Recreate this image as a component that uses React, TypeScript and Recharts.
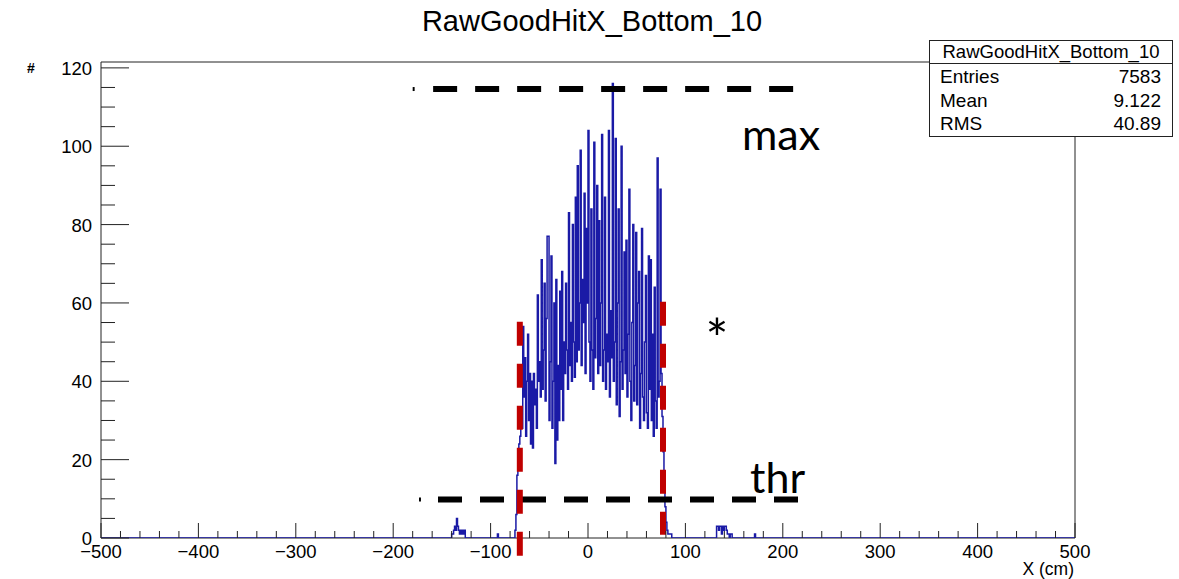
import { Line, LineChart, ReferenceArea, ReferenceLine, XAxis, YAxis } from "recharts";

const title = "RawGoodHitX_Bottom_10";
const xAxisTitle = "X (cm)";
const yAxisTitle = "#";

// axis ticks (minor + major) and the labelled ones
const xTicks = [
  -500, -480, -460, -440, -420, -400, -380, -360, -340, -320, -300, -280, -260, -240, -220, -200, -180,
  -160, -140, -120, -100, -80, -60, -40, -20, 0, 20, 40, 60, 80, 100, 120, 140, 160, 180, 200, 220, 240,
  260, 280, 300, 320, 340, 360, 380, 400, 420, 440, 460, 480, 500,
];
const xLabels = [-500, -400, -300, -200, -100, 0, 100, 200, 300, 400, 500];
const yTicks = [0, 5, 10, 15, 20, 25, 30, 35, 40, 45, 50, 55, 60, 65, 70, 75, 80, 85, 90, 95, 100, 105, 110, 115, 120];
const yLabels = [0, 20, 40, 60, 80, 100, 120];

// histogram, 1 cm bins, counts per bin starting at the given low edge
const mainStart = -76;
const mainCounts = [
  0, 2, 6, 16, 21, 24, 26, 30, 28, 54, // -76..-67
  36, 46, 26, 40, 52, 30, 42, 24, 40, 23, // -66..-57
  42, 34, 38, 28, 62, 40, 45, 36, 71, 38, // -56..-47
  48, 65, 35, 56, 77, 77, 30, 45, 72, 28, // -46..-37
  40, 60, 19, 66, 25, 44, 30, 63, 38, 68, // -36..-27
  30, 50, 42, 65, 48, 38, 83, 44, 55, 40, // -26..-17
  80, 50, 41, 87, 45, 95, 48, 60, 99, 44, // -16..-7
  66, 55, 88, 42, 79, 60, 104, 50, 40, 84, // -6..3
  48, 38, 101, 46, 56, 90, 42, 81, 44, 60, // 4..13
  103, 40, 48, 87, 38, 52, 45, 104, 36, 58, // 14..23
  46, 116, 40, 50, 102, 34, 60, 84, 31, 45, // 24..33
  100, 38, 48, 73, 42, 76, 36, 52, 89, 40, // 34..43
  30, 55, 80, 35, 44, 78, 34, 60, 68, 28, // 44..53
  42, 79, 36, 30, 50, 67, 32, 28, 72, 38, // 54..63
  71, 30, 52, 26, 64, 35, 28, 97, 36, 40, // 64..73
  89, 42, 31, 22, 15, 8, 4, 2, 1, 1, // 74..83
  1, 1, 0, // 84..86
];
const leftClusterStart = -140;
const leftClusterCounts = [1, 1, 2, 3, 2, 5, 3, 2, 1, 2, 1, 2, 1, 2];
const rightClusterStart = 132;
const rightClusterCounts = [3, 3, 2, 3, 3, 1, 3, 2, 3, 3, 2, 1, 1, 0, 1, 1];
const strayBins = [
  { x: -93, count: 1 },
  { x: 171, count: 1 },
];

const stats = [
  ["Entries", "7583"],
  ["Mean", "9.122"],
  ["RMS", "40.89"],
];

// hand-drawn annotations (data units)
const maxLevel = 114.6;
const thrLevel = 9.8;
const maxLine = { from: -159, to: 212.5, mark: -179 };
const thrLine = { from: -154, to: 217.6, mark: -172.5 };
const leftCut = { x: -70, top: 55.2, bottom: -4.6 };
const rightCut = { x: 77, top: 60.3, bottom: 0.8 };

const AXIS = "#222";
const HIST = "#1a1aa6";
const RED = "#c00000";
const ROOT_FONT = "'Liberation Sans', Arial, sans-serif";
const NOTE_FONT = "Lato, 'Open Sans', sans-serif";

function buildSteps() {
  const bins = new Map<number, number>();
  const add = (start: number, counts: number[]) => counts.forEach((c, i) => bins.set(start + i, c));
  add(leftClusterStart, leftClusterCounts);
  add(mainStart, mainCounts);
  add(rightClusterStart, rightClusterCounts);
  strayBins.forEach((b) => bins.set(b.x, b.count));
  const xs = [...bins.keys()].sort((a, b) => a - b);
  const pts = [{ x: -500, y: 0 }];
  xs.forEach((x, i) => {
    pts.push({ x, y: bins.get(x)! });
    if (xs[i + 1] !== x + 1) pts.push({ x: x + 1, y: 0 });
  });
  pts.push({ x: 500, y: 0 });
  return pts;
}

const fmt = (v: number) => (v < 0 ? `\u2212${-v}` : String(v));

function XTick(props: any) {
  const { x, y, payload } = props;
  const major = xLabels.includes(payload.value);
  return (
    <g>
      <line x1={x} x2={x} y1={y} y2={y - (major ? 15 : 7)} stroke={AXIS} />
      {major && (
        <text x={x} y={y + 20} textAnchor="middle" fontSize={18.5} fontFamily={ROOT_FONT} fill="#000">
          {fmt(payload.value)}
        </text>
      )}
    </g>
  );
}

function YTick(props: any) {
  const { x, y, payload } = props;
  const major = yLabels.includes(payload.value);
  return (
    <g>
      <line x1={x} x2={x + (major ? 28 : 14)} y1={y} y2={y} stroke={AXIS} />
      {major && (
        <text x={x - 9} y={y + 7} textAnchor="end" fontSize={18.5} fontFamily={ROOT_FONT} fill="#000">
          {payload.value}
        </text>
      )}
    </g>
  );
}

export default function App() {
  const data = buildSteps();
  return (
    <div style={{ position: "relative", width: 1179, height: 579, background: "#fff" }}>
      <style>{"body{margin:0}"}</style>
      <LineChart width={1179} height={579} data={data} margin={{ top: 62, right: 104, bottom: 11, left: 41 }}>
        <XAxis
          dataKey="x"
          type="number"
          domain={[-500, 500]}
          ticks={xTicks}
          interval={0}
          tick={<XTick />}
          tickSize={0}
          tickMargin={0}
          tickLine={false}
          axisLine={false}
          height={30}
          allowDataOverflow
        />
        <YAxis
          type="number"
          domain={[0, 121.5]}
          ticks={yTicks}
          interval={0}
          tick={<YTick />}
          tickSize={0}
          tickMargin={0}
          tickLine={false}
          axisLine={false}
          width={60}
          allowDataOverflow
        />
        <ReferenceArea x1={-500} x2={500} y1={0} y2={121.5} fill="none" stroke={AXIS} strokeWidth={1} />
        <Line
          type="stepAfter"
          dataKey="y"
          stroke={HIST}
          strokeWidth={1.5}
          dot={false}
          isAnimationActive={false}
        />
        <ReferenceLine
          segment={[{ x: maxLine.from, y: maxLevel }, { x: maxLine.to, y: maxLevel }]}
          stroke="#000"
          strokeWidth={6}
          strokeDasharray="24 18"
          ifOverflow="visible"
        />
        <ReferenceLine
          segment={[{ x: maxLine.mark - 1, y: maxLevel }, { x: maxLine.mark + 1, y: maxLevel }]}
          stroke="#000"
          strokeWidth={4}
          ifOverflow="visible"
        />
        <ReferenceLine
          segment={[{ x: thrLine.from, y: thrLevel }, { x: thrLine.to, y: thrLevel }]}
          stroke="#000"
          strokeWidth={6}
          strokeDasharray="24 18"
          ifOverflow="visible"
        />
        <ReferenceLine
          segment={[{ x: thrLine.mark - 1, y: thrLevel }, { x: thrLine.mark + 1, y: thrLevel }]}
          stroke="#000"
          strokeWidth={4}
          ifOverflow="visible"
        />
        <ReferenceLine
          segment={[{ x: leftCut.x, y: leftCut.top }, { x: leftCut.x, y: leftCut.bottom }]}
          stroke={RED}
          strokeWidth={6}
          strokeDasharray="24 18"
          ifOverflow="visible"
        />
        <ReferenceLine
          segment={[{ x: rightCut.x, y: rightCut.top }, { x: rightCut.x, y: rightCut.bottom }]}
          stroke={RED}
          strokeWidth={6}
          strokeDasharray="24 18"
          ifOverflow="visible"
        />
      </LineChart>

      <svg
        width={1179}
        height={579}
        style={{ position: "absolute", left: 0, top: 0, pointerEvents: "none" }}
      >
        <text x={592} y={31} textAnchor="middle" fontSize={29} fontFamily={ROOT_FONT} fill="#000">
          {title}
        </text>
        <text x={31} y={73} textAnchor="middle" fontSize={14} fontWeight="bold" fontFamily={ROOT_FONT} fill="#000">
          {yAxisTitle}
        </text>
        <text x={1074} y={575} textAnchor="end" fontSize={17.5} fontFamily={ROOT_FONT} fill="#000">
          {xAxisTitle}
        </text>

        <text x={742} y={150} fontSize={43} fontFamily={NOTE_FONT} fill="#000">
          max
        </text>
        <text x={750} y={493} fontSize={43} fontFamily={NOTE_FONT} fill="#000">
          thr
        </text>
        <text x={717} y={358} textAnchor="middle" fontSize={54} fontFamily={NOTE_FONT} fill="#000">
          *
        </text>

        <g fontFamily={ROOT_FONT} fill="#000">
          <rect x={929.5} y={40.5} width={243} height={96} fill="#fff" stroke={AXIS} />
          <line x1={929.5} x2={1172.5} y1={63.5} y2={63.5} stroke={AXIS} />
          <text x={1051} y={58} textAnchor="middle" fontSize={18.5}>
            {title}
          </text>
          {stats.map(([k, v], i) => (
            <g key={k}>
              <text x={940} y={83 + i * 23.5} fontSize={19}>
                {k}
              </text>
              <text x={1161} y={83 + i * 23.5} textAnchor="end" fontSize={19}>
                {v}
              </text>
            </g>
          ))}
        </g>
      </svg>
    </div>
  );
}
